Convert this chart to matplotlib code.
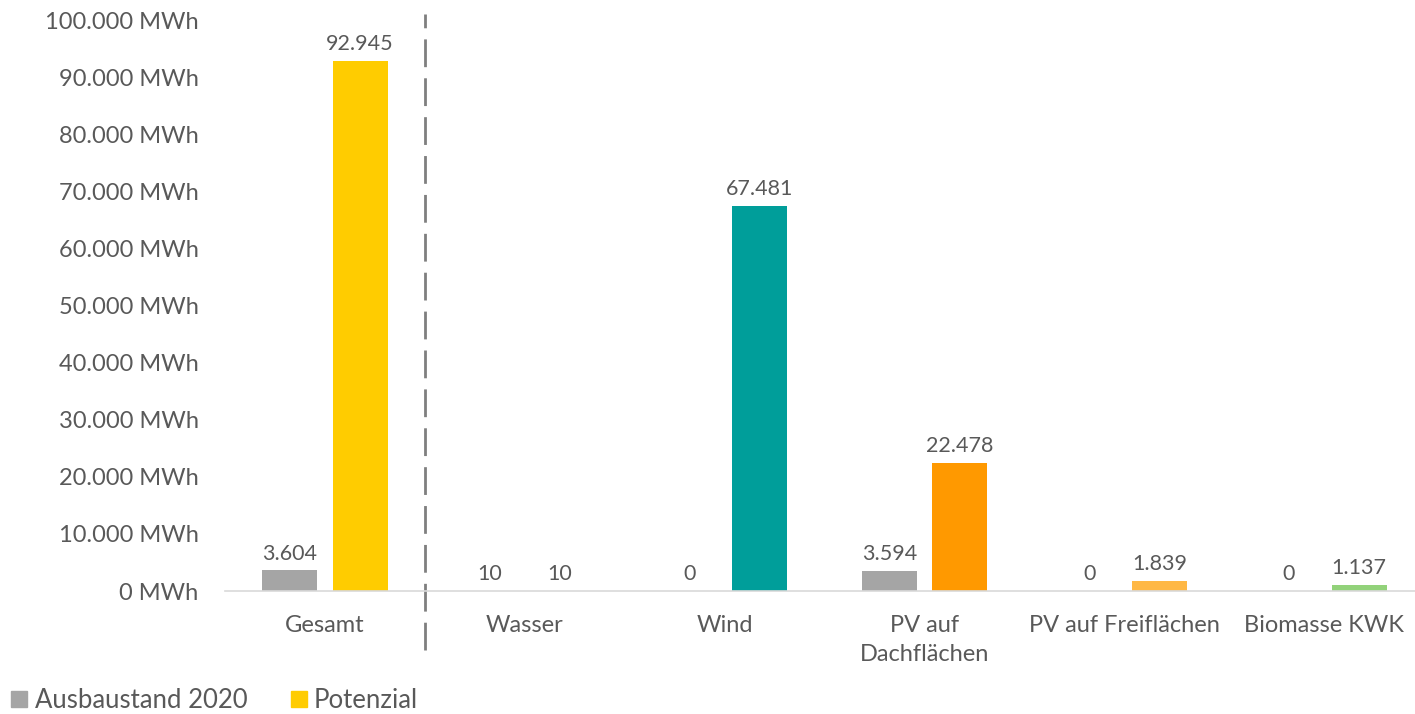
import matplotlib
matplotlib.use("Agg")
import matplotlib.pyplot as plt
from matplotlib.lines import Line2D
import numpy as np

categories = ["Gesamt", "Wasser", "Wind", "PV auf\nDachflächen", "PV auf Freiflächen", "Biomasse KWK"]
ausbau_2020 = [3604, 10, 0, 3594, 0, 0]
potenzial = [92945, 10, 67481, 22478, 1839, 1137]
potenzial_colors = ["#FFCC00", "#4F81BD", "#009E9A", "#FF9900", "#FFB845", "#92D27A"]
ausbau_color = "#A5A5A5"
yticks = list(range(0, 100001, 10000))

def fmt(v):
    return f"{v:,.0f}".replace(",", ".")

plt.rcParams['font.family'] = ['Lato', 'DejaVu Sans']
txt = "#595959"

fig = plt.figure(figsize=(14.15, 7.14), dpi=100)
ax = fig.add_axes([225/1415, 123/714, 1199/1415, 570/714])

x = np.arange(len(categories))
w = 0.276
off = 0.176
ax.bar(x - off, ausbau_2020, w, color=ausbau_color)
ax.bar(x + off, potenzial, w, color=potenzial_colors)

for xi, v in zip(x - off, ausbau_2020):
    ax.annotate(fmt(v), (xi, v), xytext=(0, 5), textcoords="offset points",
                ha="center", va="bottom", fontsize=15.5, color=txt)
for xi, v in zip(x + off, potenzial):
    ax.annotate(fmt(v), (xi, v), xytext=(0, 5), textcoords="offset points",
                ha="center", va="bottom", fontsize=15.5, color=txt)

ax.set_xlim(-0.5, len(categories) - 0.5)
ax.set_ylim(0, 100000)
ax.set_yticks(yticks)
ax.set_yticklabels([fmt(t) + " MWh" for t in yticks], fontsize=17, color=txt)
ax.set_xticks(x)
ax.set_xticklabels(categories, fontsize=17, color=txt, linespacing=1.5)
ax.tick_params(axis="both", length=0)
ax.tick_params(axis="x", pad=17)
ax.tick_params(axis="y", pad=19)
for s in ["top", "right", "left"]:
    ax.spines[s].set_visible(False)
ax.spines["bottom"].set_color("#D9D9D9")
ax.spines["bottom"].set_linewidth(1.2)

# dashed separator
sep = Line2D([0.5, 0.5], [-0.103, 1.012], transform=ax.get_xaxis_transform(),
             color="#7F7F7F", linewidth=2, linestyle=(0, (10, 4)), clip_on=False)
ax.add_line(sep)

handles = [Line2D([], [], marker="s", linestyle="none", markersize=11, color=ausbau_color),
           Line2D([], [], marker="s", linestyle="none", markersize=11, color="#FFCC00")]
fig.legend(handles, ["Ausbaustand 2020", "Potenzial"], loc="lower left",
           bbox_to_anchor=(0.0035, 0.0), ncol=2, frameon=False, fontsize=18.5,
           labelcolor=txt, handletextpad=0.1, columnspacing=1.5, handlelength=1.0,
           borderaxespad=0.0, borderpad=0.05)

fig.savefig("out.png", dpi=100)
